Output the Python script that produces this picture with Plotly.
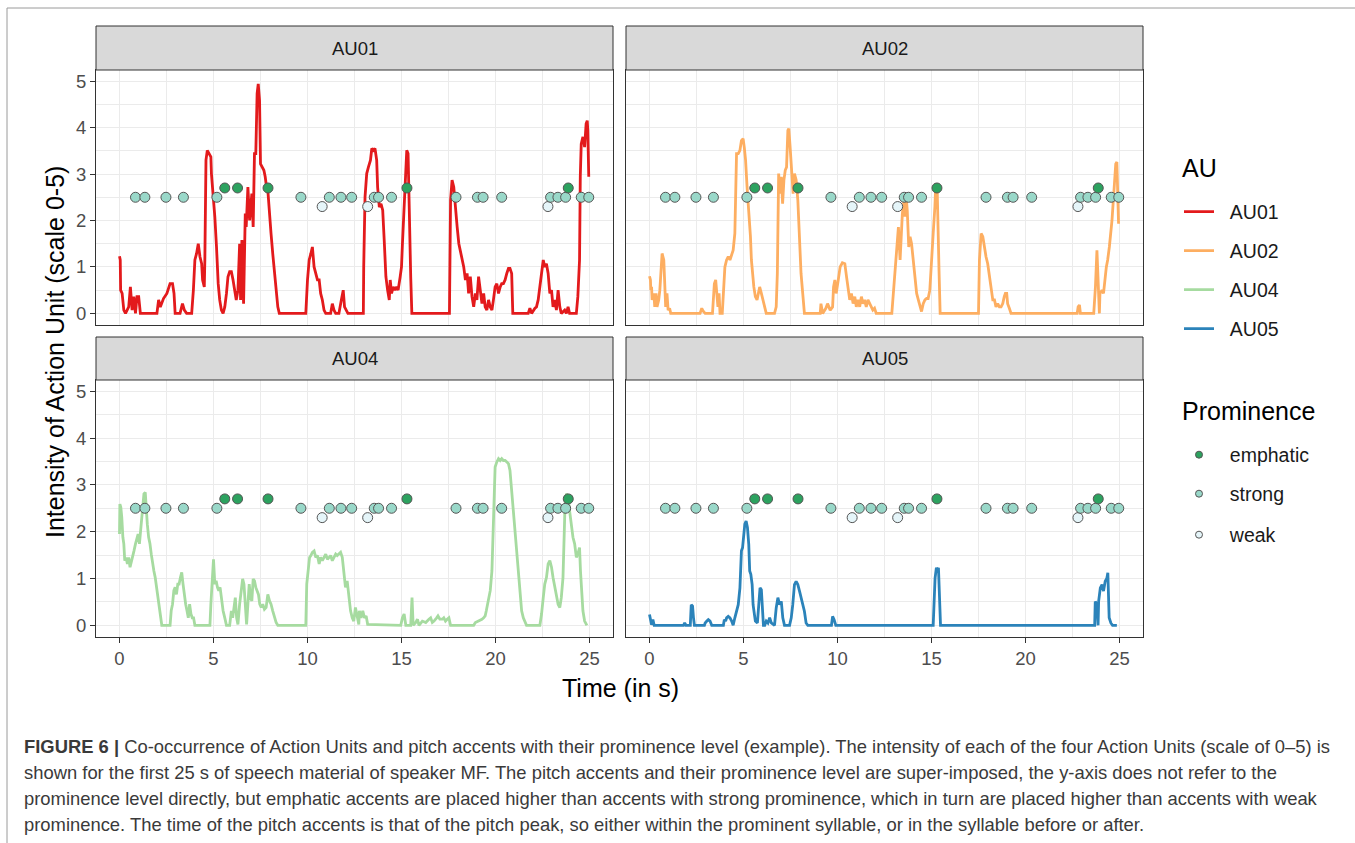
import plotly.graph_objects as go

W, H = 1355, 843

# ---------------- data (time in s, intensity 0-5) ----------------
au01 = [(0,1.23),(0.04,1.15),(0.06,0.5),(0.14,0.43),(0.23,0.07),(0.32,0),(0.49,0.14),(0.58,0.57),(0.67,0.07),(0.76,0.36),(0.85,0),(0.93,0.36),(1.02,0.36),(1.11,0),(1.99,0),(2.08,0.29),(2.17,0.14),(2.34,0.32),(2.52,0.43),(2.61,0.57),(2.69,0.64),(2.82,0.64),(2.9,0.43),(2.96,0),(3.22,0),(3.35,0.21),(3.45,0.07),(3.57,0),(3.84,0),(3.93,0.5),(4.01,1.15),(4.1,1.29),(4.19,1.5),(4.28,1.22),(4.37,1.07),(4.42,0.72),(4.51,0.57),(4.54,1.15),(4.6,3.3),(4.67,3.51),(4.75,3.44),(4.86,3.37),(4.89,3.01),(4.98,2.58),(5.07,2.08),(5.16,1.43),(5.25,0.64),(5.33,0.29),(5.42,0.07),(5.51,0),(5.6,0.14),(5.69,0.43),(5.77,0.79),(5.86,0.9),(5.95,0.9),(6.04,0.72),(6.13,0.43),(6.21,0.29),(6.3,0.5),(6.39,1.5),(6.44,0.29),(6.51,1.58),(6.6,0.21),(6.69,2.15),(6.74,1.86),(6.83,2.72),(6.92,2.0),(6.97,2.36),(7.04,2.58),(7.11,1.86),(7.18,3.44),(7.25,3.44),(7.32,4.73),(7.38,4.94),(7.45,4.58),(7.5,3.22),(7.59,3.15),(7.68,3.08),(7.75,2.94),(7.82,2.72),(7.89,2.65),(7.98,2.08),(8.06,1.72),(8.15,1.29),(8.24,0.86),(8.33,0.43),(8.42,0.14),(8.5,0),(9.91,0),(10.0,0.72),(10.09,1.15),(10.18,1.29),(10.26,1.43),(10.35,1.0),(10.44,0.86),(10.53,0.72),(10.62,0.72),(10.7,0.43),(10.79,0.29),(10.88,0.07),(10.97,0),(11.23,0),(11.32,0.21),(11.41,0.07),(11.5,0),(11.67,0),(11.8,0.29),(11.9,0.5),(11.97,0.14),(12.06,0.07),(12.15,0),(12.97,0),(12.99,1.0),(13.06,2.51),(13.15,3.01),(13.24,3.15),(13.35,3.3),(13.42,3.55),(13.5,3.51),(13.59,3.55),(13.68,3.3),(13.73,2.72),(13.82,2.29),(13.91,2.36),(14.0,2.22),(14.08,1.58),(14.17,0.79),(14.26,0.5),(14.35,0.29),(14.4,0.72),(14.47,0.43),(14.56,0.57),(14.65,0.5),(14.74,0.57),(14.82,0.5),(14.93,0.79),(15.0,1.0),(15.05,1.5),(15.14,2.29),(15.23,3.3),(15.28,3.51),(15.35,3.44),(15.4,2.36),(15.49,0.79),(15.55,0),(17.55,0),(17.61,2.44),(17.69,2.87),(17.78,2.72),(17.87,2.22),(17.96,1.86),(18.05,1.5),(18.13,1.36),(18.22,1.22),(18.31,1.0),(18.4,0.72),(18.49,0.86),(18.57,0.43),(18.66,0.79),(18.75,0.36),(18.84,0.14),(18.93,0.43),(19.01,0.29),(19.1,0.79),(19.19,0.43),(19.28,0.21),(19.37,0.43),(19.45,0.14),(19.54,0.07),(19.63,0.29),(19.72,0.14),(19.81,0.07),(19.89,0.29),(19.98,0.57),(20.07,0.64),(20.16,0.43),(20.25,0.57),(20.33,0.64),(20.42,0.64),(20.51,0.72),(20.6,0.86),(20.69,0.97),(20.77,0.97),(20.86,0.86),(20.92,0),(21.74,0),(21.83,0.11),(21.92,0),(22.1,0.11),(22.18,0.14),(22.27,0.29),(22.36,0.57),(22.45,0.86),(22.54,1.15),(22.62,1.0),(22.71,1.07),(22.8,0.86),(22.89,0.43),(22.98,0.5),(23.06,0.14),(23.15,0.29),(23.24,0.07),(23.33,0.5),(23.42,0.14),(23.5,0),(23.68,0.07),(23.77,0),(23.86,0.14),(23.94,0),(24.3,0),(24.38,0.36),(24.47,1.15),(24.51,2.94),(24.56,3.65),(24.65,3.8),(24.74,3.58),(24.82,4.08),(24.88,4.15),(24.91,3.94),(24.96,2.94)]

au02 = [(0,0.8),(0.05,0.72),(0.07,0.5),(0.11,0.57),(0.14,0.29),(0.23,0.43),(0.28,0.14),(0.35,0.43),(0.4,0.14),(0.49,0.29),(0.55,0.5),(0.6,0.79),(0.67,1.29),(0.76,1.15),(0.81,0.43),(0.86,0.14),(0.93,0.43),(0.99,0.07),(1.07,0.11),(1.13,0),(2.69,0),(2.78,0.11),(2.87,0.04),(2.96,0),(3.35,0),(3.4,0.43),(3.45,0.64),(3.52,0.72),(3.59,0.43),(3.64,0.14),(3.7,0.43),(3.75,0),(3.87,0),(3.96,0.86),(4.01,1.0),(4.1,1.15),(4.19,1.22),(4.28,1.15),(4.37,1.29),(4.45,1.36),(4.54,1.72),(4.63,3.44),(4.72,3.44),(4.81,3.51),(4.89,3.72),(4.98,3.76),(5.04,3.58),(5.11,3.3),(5.19,2.72),(5.28,2.22),(5.37,1.65),(5.42,1.15),(5.48,0.79),(5.55,0.57),(5.63,0.36),(5.72,0.29),(5.79,0.43),(5.86,0.57),(5.95,0.43),(6.04,0.29),(6.13,0.14),(6.21,0),(6.65,0),(6.74,0.14),(6.8,0.86),(6.87,3.01),(6.94,2.58),(7.01,2.94),(7.08,2.36),(7.15,2.87),(7.22,3.08),(7.29,3.15),(7.36,3.94),(7.41,3.98),(7.48,3.58),(7.57,2.94),(7.64,2.58),(7.71,3.01),(7.8,2.87),(7.89,2.44),(7.98,1.5),(8.06,0.86),(8.15,0.43),(8.24,0),(9.08,0),(9.12,0.21),(9.21,0),(9.38,0.11),(9.47,0.21),(9.61,0.07),(9.74,0.14),(9.79,0.57),(9.86,0.72),(9.93,0.43),(10.04,0.72),(10.14,1.0),(10.26,1.09),(10.39,1.07),(10.48,0.79),(10.56,0.57),(10.65,0.29),(10.74,0.43),(10.83,0.21),(10.92,0.36),(11.0,0.14),(11.09,0.29),(11.18,0.14),(11.27,0.36),(11.36,0.21),(11.44,0.29),(11.53,0.14),(11.62,0.29),(11.71,0.21),(11.8,0.14),(11.88,0.07),(11.97,0.11),(12.06,0),(12.89,0),(12.98,0.43),(13.06,1.0),(13.15,1.43),(13.24,1.86),(13.33,1.15),(13.38,1.72),(13.45,2.15),(13.54,2.44),(13.59,2.08),(13.64,2.58),(13.71,2.22),(13.79,1.43),(13.86,1.65),(13.94,1.5),(14.03,1.15),(14.12,0.79),(14.21,0.43),(14.3,0.29),(14.38,0.14),(14.47,0.04),(14.56,0.21),(14.65,0.29),(14.74,0.32),(14.82,0.32),(14.91,0.5),(15.0,1.0),(15.09,1.72),(15.18,2.29),(15.23,2.79),(15.3,2.72),(15.35,2.08),(15.4,0.93),(15.46,0),(17.5,0),(17.55,1.15),(17.64,1.72),(17.73,1.65),(17.82,1.36),(17.9,1.22),(17.99,1.07),(18.08,0.79),(18.17,0.57),(18.26,0.29),(18.35,0.29),(18.43,0.14),(18.52,0.21),(18.61,0.14),(18.7,0.14),(18.79,0.21),(18.87,0.36),(18.93,0.43),(19.0,0.43),(19.05,0.21),(19.14,0.11),(19.23,0),(22.75,0),(22.8,0.14),(22.87,0.18),(22.92,0),(23.63,0),(23.72,0.57),(23.8,1.36),(23.86,0.57),(23.93,0),(23.96,0.43),(24.07,0.5),(24.15,0.43),(24.22,0.79),(24.3,1.0),(24.37,1.15),(24.46,1.43),(24.6,2.0),(24.65,2.29),(24.72,2.72),(24.8,3.22),(24.86,3.26),(24.91,2.72),(24.95,1.93)]

au04 = [(0,1.95),(0.01,2.16),(0.02,2.59),(0.07,2.52),(0.12,2.31),(0.18,1.88),(0.23,1.74),(0.28,1.38),(0.35,1.45),(0.42,1.31),(0.49,1.45),(0.56,1.24),(0.63,1.38),(0.7,1.45),(0.77,1.59),(0.85,1.74),(0.92,1.88),(0.99,1.95),(1.06,1.74),(1.13,2.09),(1.2,2.38),(1.25,2.66),(1.3,2.81),(1.37,2.84),(1.43,2.31),(1.48,2.16),(1.55,1.88),(1.62,1.74),(1.69,1.52),(1.76,1.31),(1.83,1.16),(1.9,1.02),(1.97,0.81),(2.04,0.59),(2.11,0.31),(2.18,0.09),(2.25,0),(2.69,0),(2.75,0.31),(2.82,0.45),(2.89,0.74),(2.96,0.81),(3.03,0.66),(3.1,0.88),(3.17,0.88),(3.24,1.02),(3.31,1.13),(3.38,0.88),(3.45,0.59),(3.52,0.45),(3.59,0.31),(3.66,0.16),(3.73,0.45),(3.8,0.24),(3.87,0.16),(3.94,0.16),(4.01,0),(4.81,0),(4.86,0.45),(4.93,1.02),(5.0,1.41),(5.07,0.88),(5.14,0.95),(5.21,0.81),(5.28,0.74),(5.35,0.81),(5.42,0.59),(5.51,0.31),(5.6,0.16),(5.69,0),(5.86,0),(5.95,0.31),(6.02,0.16),(6.09,0.45),(6.16,0.59),(6.23,0.16),(6.3,0.02),(6.39,0.45),(6.48,0.81),(6.55,0.99),(6.62,0.88),(6.69,0.31),(6.76,0.02),(6.83,0.45),(6.9,0.88),(6.97,0.59),(7.04,0.52),(7.11,0.99),(7.18,0.95),(7.25,0.81),(7.32,0.74),(7.39,0.66),(7.46,0.45),(7.54,0.38),(7.62,0.45),(7.71,0.34),(7.8,0.38),(7.89,0.66),(7.98,0.52),(8.06,0.45),(8.15,0.31),(8.24,0.16),(8.33,0.06),(8.42,0),(9.91,0),(9.96,0.88),(10.04,1.16),(10.11,1.45),(10.18,1.49),(10.26,1.56),(10.35,1.59),(10.44,1.45),(10.53,1.49),(10.62,1.31),(10.7,1.45),(10.79,1.38),(10.88,1.45),(10.97,1.52),(11.06,1.41),(11.14,1.45),(11.23,1.49),(11.32,1.38),(11.41,1.45),(11.5,1.52),(11.58,1.49),(11.67,1.52),(11.76,1.56),(11.85,1.45),(11.94,1.09),(12.02,0.81),(12.11,0.95),(12.2,0.59),(12.29,0.31),(12.38,0.16),(12.46,0.09),(12.55,0.38),(12.64,0.16),(12.73,0.02),(12.76,0.31),(12.85,0.16),(12.94,0.31),(13.03,0.16),(13.12,0.2),(13.2,0.02),(14.96,0),(15.05,0.16),(15.14,0.24),(15.23,0),(15.49,0),(15.56,0.59),(15.62,0),(15.76,0.06),(15.85,0.13),(15.93,0),(16.11,0.09),(16.29,0.06),(16.46,0.13),(16.55,0.16),(16.64,0.06),(16.73,0.09),(16.87,0.16),(16.94,0.2),(17.04,0.13),(17.17,0.13),(17.25,0.16),(17.34,0.09),(17.43,0.13),(17.52,0.16),(17.61,0),(18.84,0),(18.93,0.06),(19.1,0.09),(19.28,0.13),(19.37,0.16),(19.45,0.2),(19.51,0.31),(19.58,0.45),(19.63,0.59),(19.72,0.74),(19.81,1.16),(19.89,2.02),(19.98,3.38),(20.07,3.49),(20.16,3.56),(20.25,3.52),(20.33,3.56),(20.42,3.52),(20.51,3.52),(20.6,3.49),(20.69,3.45),(20.77,3.31),(20.86,2.88),(20.95,2.45),(21.04,1.88),(21.13,1.45),(21.21,1.02),(21.3,0.59),(21.39,0.31),(21.48,0.16),(21.57,0.06),(21.65,0),(22.36,0),(22.45,0.24),(22.54,0.59),(22.62,0.88),(22.71,1.02),(22.8,1.31),(22.89,1.38),(22.98,1.24),(23.06,1.02),(23.15,0.81),(23.24,0.59),(23.33,0.45),(23.42,0.38),(23.5,0.59),(23.59,1.02),(23.64,1.88),(23.7,2.59),(23.77,2.81),(23.86,2.74),(23.94,2.45),(24.03,2.09),(24.12,1.88),(24.21,1.74),(24.3,1.45),(24.38,1.52),(24.47,1.66),(24.52,1.16),(24.59,0.74),(24.65,0.31),(24.74,0.09),(24.86,0)]

au05 = [(0,0.23),(0.02,0.19),(0.05,0.12),(0.11,0.01),(0.18,0.12),(0.25,0),(1.81,0),(1.87,0.05),(1.94,0),(2.17,0),(2.22,0.44),(2.29,0.41),(2.34,0.16),(2.39,0),(2.92,0),(2.96,0.05),(3.05,0.09),(3.13,0.12),(3.22,0.09),(3.31,0),(3.93,0),(3.98,0.12),(4.05,0.09),(4.1,0.16),(4.19,0.19),(4.28,0.16),(4.37,0.09),(4.45,0),(4.54,0.16),(4.63,0.3),(4.72,0.44),(4.81,0.8),(4.89,1.59),(4.95,1.66),(5.0,1.87),(5.07,2.16),(5.14,2.23),(5.21,2.09),(5.28,1.73),(5.33,1.16),(5.39,1.09),(5.46,0.87),(5.51,0.44),(5.56,0.3),(5.63,0.09),(5.74,0.05),(5.81,0.44),(5.88,0.8),(5.95,0.76),(6.0,0.44),(6.06,0),(6.13,0),(6.21,0.09),(6.3,0.05),(6.39,0.16),(6.48,0.05),(6.65,0),(6.74,0.37),(6.83,0.59),(6.92,0.44),(7.01,0.51),(7.09,0.16),(7.18,0),(7.45,0),(7.54,0.16),(7.62,0.44),(7.71,0.87),(7.8,0.94),(7.89,0.87),(7.98,0.73),(8.06,0.59),(8.15,0.44),(8.24,0.3),(8.33,0.05),(8.42,0),(9.68,0),(9.74,0.19),(9.82,0.12),(9.91,0),(15.09,0),(15.14,0.44),(15.19,1.01),(15.26,1.23),(15.32,1.16),(15.37,1.23),(15.42,0.44),(15.48,0),(23.68,0),(23.71,0.51),(23.8,0.44),(23.86,0),(23.89,0.51),(23.98,0.8),(24.07,0.87),(24.15,0.73),(24.24,0.94),(24.33,1.01),(24.38,1.12),(24.45,0.16),(24.54,0.05),(24.63,0),(24.86,0)]

# pitch accents (time in s) by prominence
weak_t = [10.78, 13.2, 22.79]
strong_t = [0.85, 1.35, 2.47, 3.4, 5.18, 9.65, 11.16, 11.78, 12.35, 13.55, 13.78, 14.47,
            17.9, 19.04, 19.34, 20.33, 22.93, 23.32, 23.73, 24.56, 24.96]
emphatic_t = [5.6, 6.28, 7.9, 15.29, 23.87]
prominence_level = {"weak": 2.3, "strong": 2.5, "emphatic": 2.7}

au_names = ["AU01", "AU02", "AU04", "AU05"]
au_series = [au01, au02, au04, au05]
au_colors = ["#E31A1C", "#FDAE61", "#A6DBA0", "#2B83BA"]
prom_names = ["emphatic", "strong", "weak"]
prom_times = {"weak": weak_t, "strong": strong_t, "emphatic": emphatic_t}
prom_colors = {"emphatic": "#2CA25F", "strong": "#99D8C9", "weak": "#E5F5F9"}

x_ticks = [0, 5, 10, 15, 20, 25]
y_ticks = [0, 1, 2, 3, 4, 5]

# ---------------- layout geometry (pixels) ----------------
def px_x(p): return p / W
def px_y(p): return 1 - p / H

col_x = [(96, 613), (626, 1143)]
row_y = [(70, 325), (380, 637)]
strip_y = [(26, 70), (337, 380)]

fig = go.Figure()

FAM = "Liberation Sans, Arial, sans-serif"
GRID = "#EBEBEB"
BORDER = "#333333"
TICKFONT = dict(family=FAM, size=18.5, color="#4D4D4D")

layout_axes = {}
for i, name in enumerate(au_names):
    r, c = divmod(i, 2)
    sfx = "" if i == 0 else str(i + 1)
    xa, ya = "x" + sfx, "y" + sfx
    bottom = (r == 1)
    left = (c == 0)
    layout_axes["xaxis" + sfx] = dict(
        domain=[px_x(col_x[c][0]), px_x(col_x[c][1])], anchor=ya,
        range=[-1.25, 26.25], tickvals=x_ticks, showticklabels=bottom,
        ticks="outside" if bottom else "", ticklen=5, tickcolor=BORDER, tickwidth=1,
        showgrid=True, gridcolor=GRID, gridwidth=1.3,
        minor=dict(tickvals=[2.5, 7.5, 12.5, 17.5, 22.5], showgrid=True, gridcolor=GRID, gridwidth=0.9, ticks=""),
        showline=True, mirror=True, linecolor=BORDER, linewidth=1, zeroline=False,
        tickfont=TICKFONT,
    )
    layout_axes["yaxis" + sfx] = dict(
        domain=[px_y(row_y[r][1]), px_y(row_y[r][0])], anchor=xa,
        range=[-0.25, 5.24], tickvals=y_ticks, showticklabels=left,
        ticks="outside" if left else "", ticklen=5, tickcolor=BORDER, tickwidth=1,
        showgrid=True, gridcolor=GRID, gridwidth=1.3,
        minor=dict(tickvals=[0.5, 1.5, 2.5, 3.5, 4.5], showgrid=True, gridcolor=GRID, gridwidth=0.9, ticks=""),
        showline=True, mirror=True, linecolor=BORDER, linewidth=1, zeroline=False,
        tickfont=TICKFONT,
    )

    ts = [p[0] for p in au_series[i]]
    vs = [p[1] for p in au_series[i]]
    lg = "legend" if i == 0 else "legend" + str(i + 1)
    fig.add_trace(go.Scatter(
        x=ts, y=vs, mode="lines", name="\u00a0\u00a0" + name,
        line=dict(color=au_colors[i], width=2.8), xaxis=xa, yaxis=ya,
        showlegend=True, legend=lg, hoverinfo="skip",
    ))
    for p in ["weak", "strong", "emphatic"]:
        tt = prom_times[p]
        fig.add_trace(go.Scatter(
            x=tt, y=[prominence_level[p]] * len(tt), mode="markers", name=p,
            marker=dict(size=10, color=prom_colors[p], line=dict(color="#555555", width=1)),
            xaxis=xa, yaxis=ya, showlegend=False, hoverinfo="skip",
        ))

# legend-only entries for prominence (smaller dots like the reference key)
for k, p in enumerate(prom_names):
    fig.add_trace(go.Scatter(
        x=[None], y=[None], mode="markers", name="\u00a0\u00a0" + p,
        marker=dict(size=7, color=prom_colors[p], line=dict(color="#555555", width=1)),
        xaxis="x", yaxis="y", showlegend=True, legend="legend" + str(5 + k),
    ))

legend_px_y = [212, 251, 290, 329, 455, 494, 535]
LEGFONT = dict(family=FAM, size=19.5, color="#1A1A1A")
legends = {}
for k, yy in enumerate(legend_px_y):
    key = "legend" if k == 0 else "legend" + str(k + 1)
    legends[key] = dict(
        x=px_x(1179), y=px_y(yy), xanchor="left", yanchor="middle",
        bgcolor="rgba(0,0,0,0)", borderwidth=0, font=LEGFONT,
        itemwidth=30, itemclick=False, itemdoubleclick=False,
    )

shapes = []
annotations = []
for i, name in enumerate(au_names):
    r, c = divmod(i, 2)
    shapes.append(dict(
        type="rect", xref="paper", yref="paper",
        x0=px_x(col_x[c][0]), x1=px_x(col_x[c][1]),
        y0=px_y(strip_y[r][1]), y1=px_y(strip_y[r][0]),
        fillcolor="#D9D9D9", line=dict(color=BORDER, width=1), layer="above",
    ))
    annotations.append(dict(
        text=name, xref="paper", yref="paper", showarrow=False,
        x=px_x((col_x[c][0] + col_x[c][1]) / 2), y=px_y((strip_y[r][0] + strip_y[r][1]) / 2),
        xanchor="center", yanchor="middle",
        font=dict(family=FAM, size=18.5, color="#1A1A1A"),
    ))

# outer figure frame
shapes.append(dict(type="line", xref="paper", yref="paper", x0=px_x(7), x1=px_x(7), y0=0, y1=px_y(8),
                   line=dict(color="#9A9A9A", width=1)))
shapes.append(dict(type="line", xref="paper", yref="paper", x0=px_x(7), x1=1, y0=px_y(8), y1=px_y(8),
                   line=dict(color="#9A9A9A", width=1)))

TITLEFONT = dict(family=FAM, size=25, color="#000000")
annotations += [
    dict(text="Intensity of Action Unit (scale 0-5)", xref="paper", yref="paper", showarrow=False,
         x=px_x(55), y=px_y(352), textangle=-90, xanchor="center", yanchor="middle", font=TITLEFONT),
    dict(text="Time (in s)", xref="paper", yref="paper", showarrow=False,
         x=px_x(620), y=px_y(688), xanchor="center", yanchor="middle", font=TITLEFONT),
    dict(text="AU", xref="paper", yref="paper", showarrow=False,
         x=px_x(1180), y=px_y(168), xanchor="left", yanchor="middle", font=TITLEFONT),
    dict(text="Prominence", xref="paper", yref="paper", showarrow=False,
         x=px_x(1180), y=px_y(411), xanchor="left", yanchor="middle", font=TITLEFONT),
]

caption_lines = [
    "<b>FIGURE 6 |</b> Co-occurrence of Action Units and pitch accents with their prominence level (example). The intensity of each of the four Action Units (scale of 0–5) is",
    "shown for the first 25 s of speech material of speaker MF. The pitch accents and their prominence level are super-imposed, the y-axis does not refer to the",
    "prominence level directly, but emphatic accents are placed higher than accents with strong prominence, which in turn are placed higher than accents with weak",
    "prominence. The time of the pitch accents is that of the pitch peak, so either within the prominent syllable, or in the syllable before or after.",
]
caption_y = [746, 772, 798, 824]
for line, yy in zip(caption_lines, caption_y):
    annotations.append(dict(
        text=line, xref="paper", yref="paper", showarrow=False,
        x=px_x(22), y=px_y(yy), xanchor="left", yanchor="middle",
        font=dict(family=FAM, size=18.4, color="#3A3A3A"),
    ))

fig.update_layout(
    width=W, height=H, margin=dict(l=0, r=0, t=0, b=0),
    paper_bgcolor="white", plot_bgcolor="white",
    shapes=shapes, annotations=annotations,
    **layout_axes, **legends,
)

fig.write_html("out.html", config={"displayModeBar": False},
               post_script="document.body.style.margin='0';document.body.style.overflow='hidden';")
